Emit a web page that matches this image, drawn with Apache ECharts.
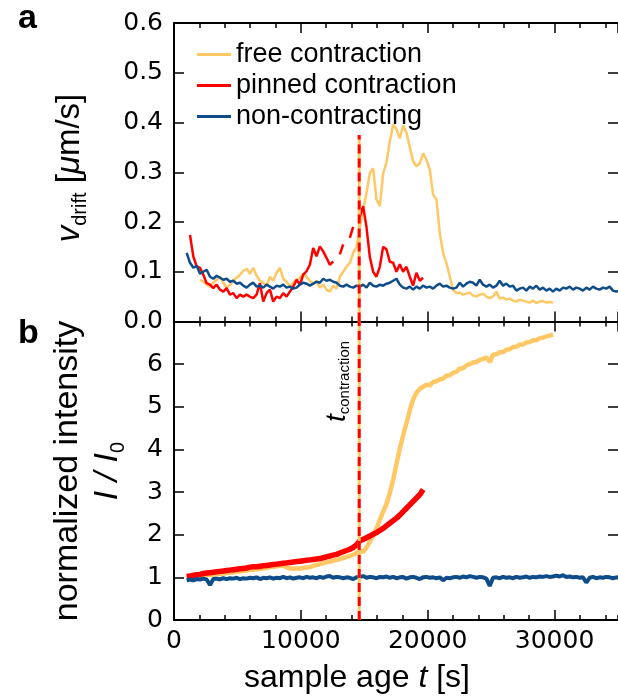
<!DOCTYPE html>
<html>
<head>
<meta charset="utf-8">
<title>drift velocity and intensity</title>
<script src="https://cdn.jsdelivr.net/npm/echarts@6/dist/echarts.min.js"></script>
<style>
  html, body { margin: 0; padding: 0; background: #fff; }
  #chart { width: 618px; height: 697px; }
</style>
</head>
<body>
<div id="chart"></div>
<script>
// traces are sampled every T_STEP seconds from their start time
var T_STEP = 262.5;
var T_CONTRACTION = 14600;
var V_MARK_TOP = 0.375;
var LABEL_I = 5.5;

var names = ['free contraction', 'pinned contraction', 'non-contracting'];
var colors = ['#ffc864', '#ff0000', '#0f4c8a'];

// panel a: drift velocity [um/s]
var vFreeStart = 2050;
var vFree = [
    0.084,0.080,0.074,0.070,0.078,0.084,0.090,0.078,0.068,0.074,
    0.082,0.088,0.094,0.102,0.106,0.096,0.108,0.092,0.082,0.078,
    0.072,0.090,0.082,0.098,0.108,0.086,0.080,0.070,0.078,0.084,
    0.088,0.096,0.090,0.082,0.076,0.082,0.068,0.074,0.064,0.060,
    0.072,0.066,0.090,0.100,0.110,0.118,0.138,0.150,0.190,0.225,
    0.258,0.298,0.308,0.245,0.232,0.298,0.320,0.362,0.396,0.386,
    0.368,0.394,0.380,0.350,0.322,0.312,0.318,0.338,0.325,0.305,
    0.255,0.245,0.178,0.138,0.117,0.091,0.064,0.057,0.058,0.054,
    0.056,0.058,0.052,0.050,0.054,0.056,0.050,0.047,0.050,0.060,
    0.046,0.048,0.044,0.046,0.042,0.040,0.044,0.042,0.040,0.038,
    0.042,0.037,0.040,0.041,0.038,0.039,0.038
];
var vPinnedStart = 1260;
var vPinned = [
    0.174,0.131,0.111,0.108,0.094,0.077,0.074,0.067,0.074,0.064,
    0.060,0.067,0.054,0.057,0.047,0.054,0.050,0.054,0.050,0.047,
    0.054,0.077,0.040,0.057,0.064,0.040,0.050,0.047,0.057,0.050,
    0.060,0.070,0.084,0.074,0.094,0.101,0.114,0.148,0.131,0.151,
    0.141,0.128,0.114,0.121,null,0.135,0.155,null,0.168,0.190,
    null,0.211,0.232,0.190,0.130,0.100,0.090,0.110,0.150,0.145,
    0.120,0.118,0.100,0.115,0.100,0.110,0.090,0.072,0.098,0.082,
    0.088
];
var vNonStart = 1000;
var vNon = [
    0.138,0.118,0.108,0.112,0.096,0.100,0.104,0.090,0.086,0.092,
    0.088,0.084,0.086,0.080,0.082,0.076,0.078,0.072,0.068,0.074,
    0.078,0.070,0.072,0.068,0.074,0.070,0.066,0.072,0.070,0.074,
    0.068,0.070,0.066,0.068,0.074,0.078,0.076,0.072,0.076,0.080,
    0.078,0.086,0.082,0.084,0.080,0.078,0.072,0.070,0.074,0.070,
    0.068,0.072,0.070,0.074,0.068,0.078,0.072,0.070,0.074,0.072,
    0.076,0.078,0.082,0.086,0.074,0.068,0.066,0.070,0.064,0.070,
    0.066,0.072,0.068,0.070,0.066,0.072,0.076,0.070,0.072,0.068,
    0.066,0.068,0.078,0.070,0.076,0.080,0.078,0.072,0.084,0.074,
    0.070,0.074,0.068,0.072,0.082,0.072,0.076,0.070,0.072,0.062,
    0.066,0.068,0.062,0.070,0.066,0.072,0.064,0.068,0.062,0.066,
    0.060,0.066,0.062,0.068,0.066,0.070,0.064,0.068,0.066,0.062,
    0.068,0.064,0.070,0.066,0.064,0.068,0.066,0.070,0.062,0.060,
    0.062
];

// panel b: normalized intensity I / I0
var iFreeStart = 1000;
var iFree = [
    1.01,1.02,1.02,1.03,1.04,1.04,1.05,1.06,1.06,1.07,
    1.08,1.09,1.10,1.11,1.12,1.13,1.14,1.15,1.16,1.17,
    1.18,1.19,1.20,1.21,1.22,1.24,1.25,1.26,1.27,1.27,
    1.24,1.21,1.20,1.21,1.21,1.22,1.23,1.24,1.27,1.29,
    1.31,1.33,1.35,1.37,1.39,1.41,1.43,1.45,1.48,1.50,
    1.53,1.57,1.62,1.60,1.70,1.84,1.99,2.15,2.35,2.54,
    2.72,2.98,3.29,3.66,4.02,4.33,4.62,4.92,5.17,5.33,
    5.42,5.47,5.52,5.50,5.58,5.60,5.64,5.66,5.73,5.74,
    5.80,5.82,5.90,5.90,5.97,6.00,6.04,6.05,6.10,6.12,
    6.16,6.05,6.22,6.23,6.28,6.28,6.34,6.35,6.40,6.41,
    6.46,6.46,6.51,6.52,6.56,6.56,6.61,6.62,6.65,6.67,
    6.70
];
var iPinnedStart = 1000;
var iPinned = [
    1.02,1.03,1.05,1.06,1.07,1.09,1.10,1.11,1.12,1.13,
    1.14,1.15,1.16,1.17,1.18,1.19,1.20,1.21,1.22,1.24,
    1.25,1.25,1.26,1.27,1.28,1.29,1.30,1.31,1.32,1.33,
    1.34,1.35,1.36,1.37,1.38,1.39,1.40,1.41,1.42,1.43,
    1.44,1.46,1.48,1.50,1.52,1.54,1.57,1.60,1.63,1.66,
    1.70,1.76,1.86,1.89,1.93,1.97,2.01,2.05,2.10,2.15,
    2.21,2.27,2.33,2.39,2.46,2.54,2.62,2.70,2.78,2.86,
    2.94,3.06
];
var iNonStart = 1000;
var iNon = [
    0.93,0.95,0.93,0.96,0.95,0.97,0.95,0.82,0.96,0.97,
    0.95,0.98,0.96,0.98,0.97,0.99,0.96,0.98,0.97,0.99,
    0.98,1.00,0.96,0.99,0.98,1.00,0.97,0.99,0.98,1.01,
    0.98,1.00,0.97,0.99,1.00,0.98,1.01,0.99,1.00,0.98,
    1.01,0.99,1.02,1.03,0.99,1.01,1.00,0.98,1.00,0.99,
    0.96,1.00,1.01,1.03,0.99,1.01,1.00,0.98,1.01,1.00,
    1.02,0.99,1.01,0.98,1.00,1.01,0.97,1.00,1.01,0.99,
    0.96,1.00,1.01,0.99,1.00,0.98,1.00,0.93,0.99,0.98,
    1.00,1.01,0.99,1.02,1.00,1.03,1.01,0.99,1.01,1.00,
    0.97,0.80,0.99,1.00,0.98,1.01,0.99,1.00,0.98,1.01,
    0.99,1.00,1.02,0.99,1.01,1.00,1.02,1.01,1.03,1.01,
    1.02,1.04,1.02,1.05,1.01,1.02,1.00,1.01,0.99,1.00,
    0.88,0.99,1.01,0.98,1.00,0.99,1.01,1.00,0.98,1.00,
    0.99
];

var X_MAX = 35000;
var X_MAJOR = 10000;
var X_MINOR = 2000;
var V_MAX = 0.6, V_STEP = 0.1;
var I_MAX = 7, I_STEP = 1;

function toPoints(start, values) {
    return values.map(function (v, i) {
        return [start + i * T_STEP, v === null ? '-' : v];
    });
}

var tickFont = { fontFamily: 'DejaVu Sans', fontSize: 25, color: '#000' };
var axisLineStyle = { color: '#000', width: 2 };

function xAxisOf(grid, pos, interval, len, main, labels) {
    return {
        type: 'value', gridIndex: grid, position: pos,
        min: 0, max: X_MAX, interval: interval,
        axisLine: { show: main, onZero: false, lineStyle: axisLineStyle },
        axisTick: { show: true, inside: true, length: len, lineStyle: { color: '#000', width: 1.5 } },
        axisLabel: labels ? Object.assign({
            margin: 9, showMaxLabel: false,
            formatter: function (v) { return String(v); }
        }, tickFont) : { show: false },
        splitLine: { show: false }
    };
}

function yAxisOf(grid, pos, max, interval, labels, fmt) {
    return {
        type: 'value', gridIndex: grid, position: pos,
        min: 0, max: max, interval: interval,
        axisLine: { show: pos === 'left', onZero: false, lineStyle: axisLineStyle },
        axisTick: { show: true, inside: true, length: 10, lineStyle: { color: '#000', width: 1.5 } },
        axisLabel: labels ? Object.assign({ margin: 11, formatter: fmt }, tickFont) : { show: false },
        splitLine: { show: false }
    };
}

function curve(k, xi, yi, data, width) {
    return {
        name: names[k], type: 'line', xAxisIndex: xi, yAxisIndex: yi,
        data: data, symbol: 'none', connectNulls: false, animation: false,
        lineStyle: { color: colors[k], width: width },
        itemStyle: { color: colors[k] }
    };
}

function marker(xi, yi, top, color, type, width) {
    return {
        name: 't contraction', type: 'line', xAxisIndex: xi, yAxisIndex: yi,
        data: [[T_CONTRACTION, 0], [T_CONTRACTION, top]],
        symbol: 'none', animation: false, z: 5,
        lineStyle: { color: color, width: width, type: type }
    };
}

var chart = echarts.init(document.getElementById('chart'), null, { renderer: 'canvas' });

var option = {
    backgroundColor: '#fff',
    animation: false,
    grid: [
        { left: 174, right: -1, top: 23, height: 298.5 },
        { left: 174, right: -1, top: 321.5, height: 298.5 }
    ],
    xAxis: [
        xAxisOf(0, 'bottom', X_MAJOR, 10, true, false),
        xAxisOf(0, 'bottom', X_MINOR, 5, false, false),
        xAxisOf(0, 'top', X_MAJOR, 10, true, false),
        xAxisOf(0, 'top', X_MINOR, 5, false, false),
        xAxisOf(1, 'bottom', X_MAJOR, 10, true, true),
        xAxisOf(1, 'bottom', X_MINOR, 5, false, false),
        xAxisOf(1, 'top', X_MAJOR, 10, true, false),
        xAxisOf(1, 'top', X_MINOR, 5, false, false)
    ],
    yAxis: [
        yAxisOf(0, 'left', V_MAX, V_STEP, true, function (v) { return v.toFixed(1); }),
        yAxisOf(0, 'right', V_MAX, V_STEP, false),
        yAxisOf(1, 'left', I_MAX, I_STEP, true, function (v) { return v >= I_MAX ? '' : String(v); }),
        yAxisOf(1, 'right', I_MAX, I_STEP, false)
    ],
    legend: {
        data: names, orient: 'vertical', left: 192, top: 36,
        icon: 'rect', itemWidth: 34, itemHeight: 3, itemGap: 4, selectedMode: false,
        textStyle: { fontFamily: 'Liberation Sans', fontSize: 27, color: '#000' }
    },
    series: [
        curve(0, 0, 0, toPoints(vFreeStart, vFree), 2.5),
        curve(1, 0, 0, toPoints(vPinnedStart, vPinned), 2.5),
        curve(2, 0, 0, toPoints(vNonStart, vNon), 2.5),
        curve(0, 4, 2, toPoints(iFreeStart, iFree), 4.5),
        curve(1, 4, 2, toPoints(iPinnedStart, iPinned), 5.5),
        curve(2, 4, 2, toPoints(iNonStart, iNon), 4),
        marker(0, 0, V_MARK_TOP, colors[0], 'solid', 3),
        marker(0, 0, V_MARK_TOP, colors[1], [9, 5], 3),
        marker(4, 2, I_MAX, colors[0], 'solid', 3),
        marker(4, 2, I_MAX, colors[1], [9, 5], 3)
    ]
};
chart.setOption(option);

function vText(x, y, text, size, rich) {
    return {
        type: 'text', x: x, y: y, rotation: Math.PI / 2, z: 10,
        style: {
            text: text, fill: '#000', fontFamily: 'Liberation Sans', fontSize: size,
            rich: rich, textAlign: 'center', textVerticalAlign: 'middle',
            align: 'center', verticalAlign: 'middle'
        }
    };
}

var anchor = chart.convertToPixel({ xAxisIndex: 4, yAxisIndex: 2 }, [T_CONTRACTION, LABEL_I]);

chart.setOption({
    graphic: [
        { type: 'text', x: 18, y: 19, style: { text: 'a', fill: '#000', fontFamily: 'Liberation Sans', fontWeight: 'bold', fontSize: 34, textVerticalAlign: 'middle', verticalAlign: 'middle' } },
        { type: 'text', x: 18, y: 334, style: { text: 'b', fill: '#000', fontFamily: 'Liberation Sans', fontWeight: 'bold', fontSize: 34, textVerticalAlign: 'middle', verticalAlign: 'middle' } },
        vText(70, 168, '{i|v}{sub|drift} [{i|\u03bc}m/s]', 33, {
            i: { fontStyle: 'italic', fontSize: 33 },
            sub: { fontSize: 20, padding: [20, 0, 0, 0] }
        }),
        vText(68, 471, 'normalized intensity', 34, {}),
        vText(108, 471, '{i|I / I}{sub|0}', 34, {
            i: { fontStyle: 'italic', fontSize: 34 },
            sub: { fontSize: 20, padding: [20, 0, 0, 0] }
        }),
        vText(anchor[0] - 22, anchor[1] - 4, '{t|t}{sub|contraction}', 28, {
            t: { fontStyle: 'italic', fontSize: 28 },
            sub: { fontSize: 15, padding: [16, 0, 0, 0] }
        }),
        { type: 'text', x: 357, y: 678, style: {
            text: 'sample age {i|t} [s]', fill: '#000', fontFamily: 'Liberation Sans', fontSize: 32,
            rich: { i: { fontStyle: 'italic', fontSize: 32 } },
            textAlign: 'center', textVerticalAlign: 'middle', align: 'center', verticalAlign: 'middle'
        } }
    ]
});
</script>
</body>
</html>
